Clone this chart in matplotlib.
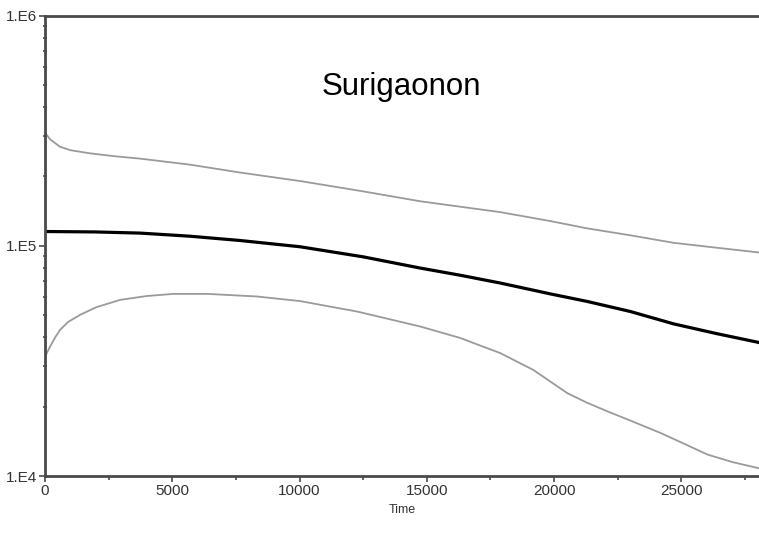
import numpy as np
import matplotlib.pyplot as plt
from matplotlib.ticker import FixedLocator, LogLocator, NullFormatter

plt.rcParams['font.family'] = ['Liberation Sans', 'DejaVu Sans']

# time points (years) and values
t_upper = [0, 200, 590, 1000, 1770, 2700, 3730, 5700, 7660, 10020, 12400, 14740, 17880,
           19850, 21300, 23000, 24690, 26400, 28050]
upper = [3.10e5, 2.90e5, 2.69e5, 2.60e5, 2.52e5, 2.45e5, 2.39e5, 2.25e5, 2.08e5, 1.91e5,
         1.73e5, 1.56e5, 1.40e5, 1.28e5, 1.19e5, 1.11e5, 1.03e5, 0.98e5, 0.935e5]

t_median = [0, 2000, 3730, 5700, 7660, 10020, 12500, 14740, 16300, 17880, 19850, 21300,
            23000, 24690, 26400, 28050]
median = [1.153e5, 1.148e5, 1.135e5, 1.10e5, 1.054e5, 0.99e5, 0.895e5, 0.80e5, 0.745e5,
          0.689e5, 0.618e5, 0.573e5, 0.518e5, 0.458e5, 0.415e5, 0.380e5]

t_lower = [0, 60, 200, 400, 590, 900, 1380, 2000, 2950, 4000, 5050, 6370, 8330, 10020,
           12260, 14740, 16300, 17880, 19180, 20520, 21300, 22090, 23000, 24170, 24690,
           26020, 27000, 28050]
lower = [3.25e4, 3.40e4, 3.65e4, 4.00e4, 4.31e4, 4.66e4, 5.01e4, 5.40e4, 5.82e4, 6.05e4,
         6.18e4, 6.18e4, 6.02e4, 5.75e4, 5.18e4, 4.46e4, 3.98e4, 3.42e4, 2.89e4, 2.29e4,
         2.08e4, 1.91e4, 1.74e4, 1.54e4, 1.45e4, 1.24e4, 1.15e4, 1.08e4]

y_ticks = [1e4, 1e5, 1e6]
y_labels = ['1.E4', '1.E5', '1.E6']
x_ticks = [0, 5000, 10000, 15000, 20000, 25000]

fig = plt.figure(figsize=(7.59, 5.41), dpi=100)
ax = fig.add_axes([45 / 759, 65 / 541, 714 / 759, 460.5 / 541])

ax.plot(t_upper, upper, color='#9a9a9a', lw=1.3)
ax.plot(t_lower, lower, color='#9a9a9a', lw=1.3)
ax.plot(t_median, median, color='black', lw=2.3)

ax.set_yscale('log')
ax.set_ylim(1e4, 1e6)
ax.set_xlim(0, 28050)

ax.yaxis.set_major_locator(FixedLocator(y_ticks))
ax.set_yticklabels(y_labels)
ax.yaxis.set_minor_locator(LogLocator(base=10, subs=np.arange(2, 10)))
ax.yaxis.set_minor_formatter(NullFormatter())
ax.set_xticks(x_ticks)
ax.xaxis.set_minor_locator(FixedLocator(np.arange(2500, 28000, 5000)))

ax.spines['right'].set_visible(False)
for s in ['left', 'top', 'bottom']:
    ax.spines[s].set_color('#4a4a4a')
    ax.spines[s].set_linewidth(2)

ax.tick_params(which='major', direction='out', length=4, width=1.2, color='#4a4a4a',
               labelsize=11, labelcolor='#333333', pad=2)
ax.tick_params(axis='y', which='minor', direction='inout', length=3, width=1.2, color='#4a4a4a')
ax.tick_params(axis='x', which='minor', direction='out', length=3, width=1.2, color='#4a4a4a')

ax.set_xlabel('Time', fontsize=9, color='#333333', labelpad=4)
ax.text(0.499, 0.845, 'Surigaonon', transform=ax.transAxes, ha='center', va='center',
        fontsize=22.5, color='black')

fig.savefig('out.png', dpi=100)
